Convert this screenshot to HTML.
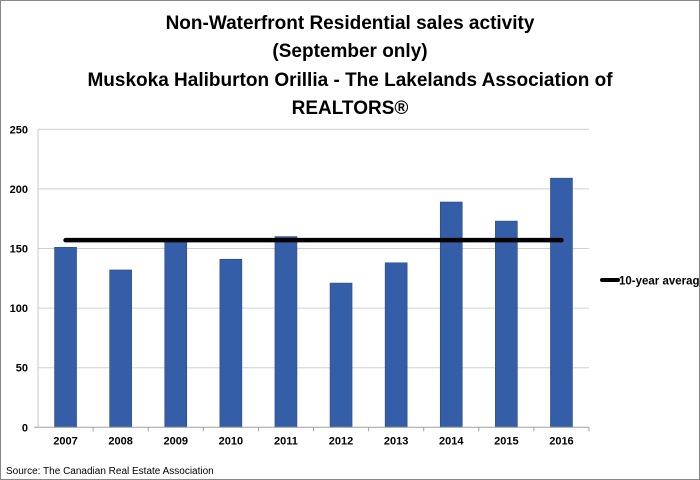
<!DOCTYPE html>
<html><head><meta charset="utf-8"><style>
body{margin:0;background:#fff}
#c{position:relative;width:700px;height:480px;font-family:"Liberation Sans",sans-serif;overflow:hidden}
</style></head><body>
<div id="c">
<svg id="s" width="700" height="480" xmlns="http://www.w3.org/2000/svg">
<rect x="0.5" y="0.5" width="699" height="479" fill="#fff" stroke="#888" stroke-width="1"/>
<g font-family="Liberation Sans, sans-serif" font-weight="bold" font-size="19" text-anchor="middle" fill="#000">
<text x="350" y="29">Non-Waterfront Residential sales activity</text>
<text x="350" y="57">(September only)</text>
<text x="350" y="86">Muskoka Haliburton Orillia - The Lakelands Association of</text>
<text x="350" y="114">REALTORS®</text>
</g>
<g id="grid"></g><g id="bars"></g><g id="axes"></g>
<g>
<line x1="602" y1="280" x2="618" y2="280" stroke="#000" stroke-width="4" stroke-linecap="round"/>
<text x="619" y="284.5" font-size="11.5" font-weight="bold" fill="#000">10-year average</text>
</g>
<text x="6" y="474" font-size="10" fill="#000">Source: The Canadian Real Estate Association</text>
</svg></div>
<script>
const categories=["2007","2008","2009","2010","2011","2012","2013","2014","2015","2016"];
const salesValues=[151,132,156,141,160,121,138,189,173,209];
const averageValue=157;
const yTicks=[0,50,100,150,200,250];
const NS="http://www.w3.org/2000/svg";
const x0=38,x1=589,yTop=129.3,yBot=427.3,yMax=250;
const bw=(x1-x0)/categories.length;
function y(v){return yBot-(v/yMax)*(yBot-yTop);}
function xc(i){return x0+bw*(i+0.5);}
function mk(t,a,p){const e=document.createElementNS(NS,t);for(const k in a)e.setAttribute(k,a[k]);p.appendChild(e);return e;}
const g=document.getElementById('grid'),b=document.getElementById('bars'),ax=document.getElementById('axes');
yTicks.forEach(v=>{
 if(v>0){const l=mk('line',{x1:x0,x2:x1,y1:y(v),y2:y(v),stroke:'#d0d0d0','stroke-width':1},g);
 
 }
 const t=mk('text',{x:x0-10,y:y(v)+4,'text-anchor':'end','font-size':11,'font-weight':'bold',fill:'#000'},ax);
 t.textContent=v;
 
 
});
const yl=mk('line',{x1:x0,x2:x0,y1:yTop,y2:yBot,stroke:'#c8c8c8'},ax);


const xl=mk('line',{x1:x0-4,x2:x1,y1:yBot,y2:yBot,stroke:'#a0a0a0'},ax);


categories.forEach((c,i)=>{
 const r=mk('rect',{x:xc(i)-11,y:y(salesValues[i]),width:22,height:yBot-y(salesValues[i]),fill:'#345ea8',stroke:'#2a4a85','stroke-width':0.6},b);
 
 
 const tk=mk('line',{x1:x0+bw*(i+1),x2:x0+bw*(i+1),y1:yBot,y2:yBot+4,stroke:'#a0a0a0'},ax);
 
 
 const t=mk('text',{x:xc(i),y:yBot+17,'text-anchor':'middle','font-size':11,'font-weight':'bold',fill:'#000'},ax);
 t.textContent=c;
 
 
});
const al=mk('line',{x1:xc(0),x2:xc(categories.length-1),y1:y(averageValue),y2:y(averageValue),stroke:'#000','stroke-width':4.5,'stroke-linecap':'round'},b);


</script>
</body></html>
